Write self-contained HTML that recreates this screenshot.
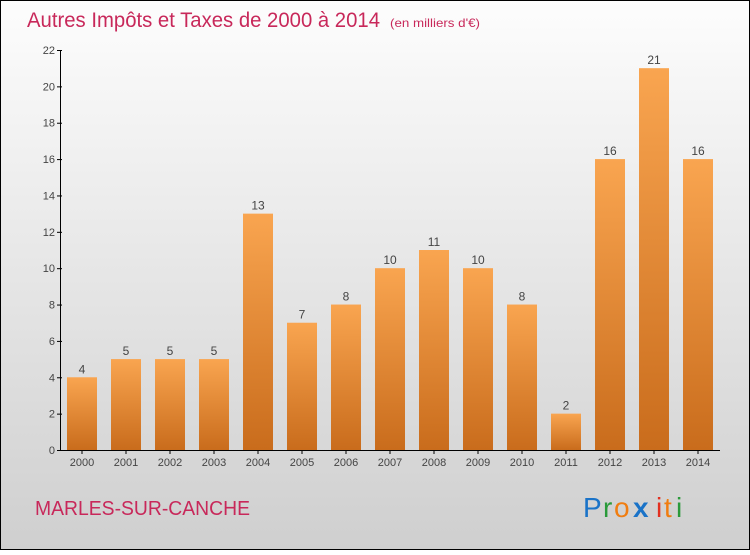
<!DOCTYPE html>
<html><head><meta charset="utf-8"><style>
html,body{margin:0;padding:0}
body{width:750px;height:550px;overflow:hidden;font-family:"Liberation Sans",sans-serif}
</style></head><body>
<svg width="750" height="550" xmlns="http://www.w3.org/2000/svg">
<defs>
<linearGradient id="bg" x1="0" y1="0" x2="0" y2="1"><stop offset="0" stop-color="#fdfdfd"/><stop offset="1" stop-color="#cfcfcf"/></linearGradient>
<linearGradient id="bar" x1="0" y1="0" x2="0" y2="1"><stop offset="0" stop-color="#f9a550"/><stop offset="1" stop-color="#c96c1c"/></linearGradient>
</defs>
<rect x="0.5" y="0.5" width="749" height="549" fill="url(#bg)" stroke="#000"/>
<text x="27" y="27" font-size="21" fill="#c8285a" textLength="353" lengthAdjust="spacingAndGlyphs">Autres Impôts et Taxes de 2000 à 2014</text>
<text x="390" y="27" font-size="12" fill="#c8285a" textLength="90" lengthAdjust="spacingAndGlyphs">(en milliers d'€)</text>
<g id="bars"></g>
<g id="axes"></g>
<text x="35" y="515" font-size="20" fill="#c8285a" textLength="215" lengthAdjust="spacingAndGlyphs">MARLES-SUR-CANCHE</text>
<g font-size="28" font-family="'Liberation Sans',sans-serif">
<text x="583" y="517" fill="#1a73c8">P</text><text x="603" y="517" fill="#2a9a3a">r</text><text x="614" y="517" fill="#f07d10">o</text><text x="633" y="517" fill="#1a73c8" font-weight="bold">x</text><text x="656" y="517" fill="#e23020">i</text><text x="664" y="517" fill="#f07d10">t</text><text x="676" y="517" fill="#2a9a3a">i</text>
</g>
</svg>
<script>
const categories=["2000","2001","2002","2003","2004","2005","2006","2007","2008","2009","2010","2011","2012","2013","2014"];
const values=[4,5,5,5,13,7,8,10,11,10,8,2,16,21,16];
const yTicks=[0,2,4,6,8,10,12,14,16,18,20,22];
const NS="http://www.w3.org/2000/svg";
const y0=450,yTop=50,yMax=22,x0=82,step=44,bw=30;
const y=v=>y0-(v/yMax)*(y0-yTop);
const x=i=>x0+i*step;
function mk(t,a,p){const e=document.createElementNS(NS,t);for(const k in a)e.setAttribute(k,a[k]);p.appendChild(e);return e;}
const gb=document.getElementById('bars'),ga=document.getElementById('axes');
values.forEach((v,i)=>{
 const r=mk('rect',{x:x(i)-bw/2,y:y(v),width:bw,height:y0-y(v),fill:'url(#bar)'},gb);
 
 
 const t=mk('text',{x:x(i),y:y(v)-4,'text-anchor':'middle','font-size':12,fill:'#444'},gb);
 t.textContent=v;
 
 
 const c=mk('text',{x:x(i),y:y0+16,'text-anchor':'middle','font-size':11,fill:'#444'},ga);
 c.textContent=categories[i];
 
 
 mk('line',{x1:x(i),x2:x(i),y1:y0,y2:y0+4,stroke:'#000'},ga);
});
const ax=mk('path',{d:`M60.5 ${yTop} V${y0+0.5} H720`,stroke:'#000',fill:'none'},ga);


yTicks.forEach(v=>{
 mk('line',{x1:57,x2:62,y1:y(v)+0.5,y2:y(v)+0.5,stroke:'#000'},ga);
 const t=mk('text',{x:55,y:y(v)+4,'text-anchor':'end','font-size':11,fill:'#444'},ga);
 t.textContent=v;
 
 
});
</script>
</body></html>
